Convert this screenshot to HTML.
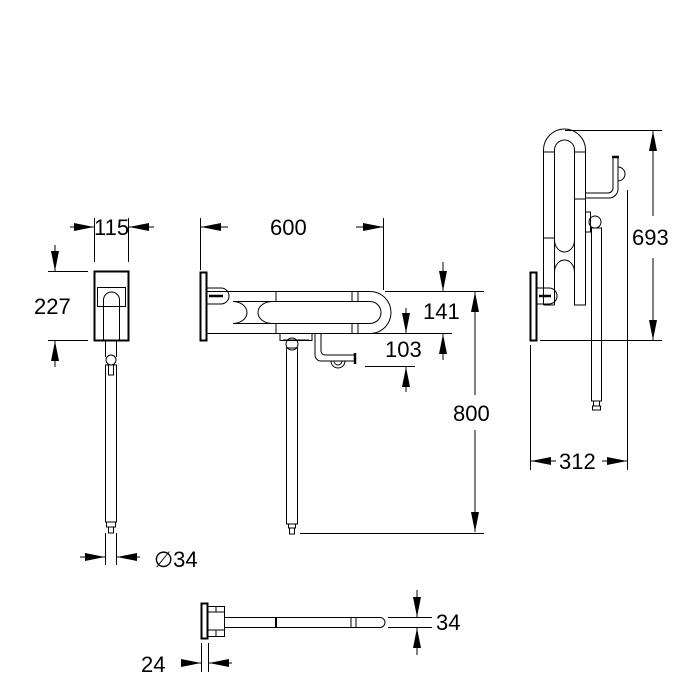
<!DOCTYPE html>
<html><head><meta charset="utf-8"><style>
html,body{margin:0;padding:0;background:#fff;}
svg{display:block}
text{font-family:"Liberation Sans",Arial,sans-serif;font-size:22px;fill:#000}
</style></head><body>
<svg width="700" height="700" viewBox="0 0 700 700" xmlns="http://www.w3.org/2000/svg">
<defs>
<marker id="a" viewBox="0 0 20 8" refX="20" refY="4" markerWidth="20" markerHeight="8" markerUnits="userSpaceOnUse" orient="auto"><path d="M0,0 L20,4 L0,8 z" fill="#000"/></marker>
</defs>
<g stroke="#000" stroke-width="1" fill="none">
<!-- LEFT VIEW -->
<rect x="94.5" y="271.5" width="34" height="69" stroke-width="2"/>
<rect x="97.5" y="287.5" width="28" height="19" />
<path d="M103.5,340 V300 a8,8 0 0 1 16,0 V340"/>
<path d="M105.5,340 V357 M116.5,340 V357"/>
<circle cx="111" cy="360" r="5"/>
<rect x="108.5" y="365" width="5" height="10"/>
<rect x="105.5" y="365" width="11" height="157"/>
<rect x="106.5" y="522" width="9" height="5"/>
<rect x="108.5" y="527" width="5" height="6"/>
<!-- dims left -->
<path d="M94.5,218 V262 M128.5,218 V262"/>
<path d="M70,227 H94" marker-end="url(#a)"/>
<path d="M154,227 H129" marker-end="url(#a)"/>
<path d="M48,271.5 H88 M48,340.5 H88"/>
<path d="M55,245 V271" marker-end="url(#a)"/>
<path d="M55,367 V341" marker-end="url(#a)"/>
<path d="M105.5,533 V565 M116.5,533 V565"/>
<path d="M80,557 H105" marker-end="url(#a)"/>
<path d="M140,557 H117" marker-end="url(#a)"/>

<!-- FRONT VIEW -->
<rect x="200.5" y="272.5" width="6" height="68" stroke-width="2"/>
<path d="M207,288 h14 a8,8 0 0 1 0,16 h-14"/>
<path d="M209,296 h14" stroke-width="2.5"/>
<path d="M207,291.5 H370 a21,21 0 0 1 0,42 H207"/>
<path d="M233,301.5 H370 a11,11 0 0 1 0,22 H233"/>
<path d="M233,301.5 a14,11 0 0 1 0,22 M272,301.5 a14,11 0 0 0 0,22"/>
<path d="M276,291.5 V301 M276,323 V333.5 M352,291.5 V301 M358,291.5 V301 M352,323 V333.5 M358,323 V333.5"/>
<path d="M280,333.5 v7 h32 v-7 M283,340 h26"/>
<circle cx="292" cy="344" r="6"/>
<rect x="286.5" y="348" width="11" height="176"/>
<rect x="288.5" y="524" width="7" height="4"/>
<rect x="289.5" y="528" width="5" height="6"/>
<path d="M315,333.5 V355 a6,6 0 0 0 6,6 H355 M321,333.5 V351 a4,4 0 0 0 4,4 H355"/>
<path d="M355,353 V364" stroke-width="2.5"/>
<path d="M331,361 a7,7 0 0 0 14,0 M334,361 a4,4 0 0 0 8,0"/>
<!-- dims front -->
<path d="M200.5,218 V270 M383.5,218 V290"/>
<path d="M228,227 H201" marker-end="url(#a)"/>
<path d="M356,227 H383" marker-end="url(#a)"/>
<path d="M385,291.5 H484 M370,333.5 H452 M365,366.5 H415 M300,533.5 H484"/>
<path d="M443,262 V291" marker-end="url(#a)"/>
<path d="M443,360 V334" marker-end="url(#a)"/>
<path d="M406,308 V333" marker-end="url(#a)"/>
<path d="M406,392 V367" marker-end="url(#a)"/>
<path d="M475,395 V292" marker-end="url(#a)"/>
<path d="M475,430 V532" marker-end="url(#a)"/>

<!-- SIDE VIEW -->
<rect x="530.5" y="272.5" width="6" height="68" stroke-width="2"/>
<path d="M537,288 h12 a8,8 0 0 1 0,16 h-12"/>
<path d="M539,296 h12" stroke-width="2.5"/>
<path d="M543.5,305 V150 a21,21 0 0 1 42,0 V305 H574 M543.5,305 h11"/>
<path d="M554.5,305 V150 a10,10 0 0 1 20,0 V305"/>
<path d="M543.5,152 h11 M574.5,152 h11 M543.5,238 h11 M574.5,199 h11"/>
<path d="M554.5,240 a10,12 0 0 0 20,0 M554.5,272 a10,12 0 0 1 20,0"/>
<path d="M585.5,193 H608 a5,5 0 0 0 5,-5 V158 M585.5,198 H609 a9,9 0 0 0 9,-9 V158"/>
<path d="M612,157 h7" stroke-width="2.5"/>
<path d="M618,167 a7,7 0 0 1 0,14"/>
<rect x="585.5" y="212" width="5" height="20"/>
<circle cx="595" cy="222" r="6"/>
<rect x="591.5" y="228" width="10" height="173"/>
<rect x="593.5" y="401" width="6" height="5"/>
<rect x="592.5" y="406" width="8" height="4"/>
<!-- dims side -->
<path d="M565,130.5 H662 M540,340.5 H662"/>
<path d="M653,216 V131" marker-end="url(#a)"/>
<path d="M653,258 V340" marker-end="url(#a)"/>
<path d="M530.5,345 V470 M627.5,190 V470"/>
<path d="M556,461 H531" marker-end="url(#a)"/>
<path d="M602,461 H627" marker-end="url(#a)"/>

<!-- BOTTOM VIEW -->
<rect x="201.5" y="603.5" width="6" height="35" stroke-width="2"/>
<rect x="207.5" y="606.5" width="17" height="30"/>
<path d="M207.5,612 h17 M207.5,630 h17 M216,606.5 V612 M216,630 V636.5"/>
<path d="M224.5,617.5 H380 a5,5 0 0 1 0,10 H224.5"/>
<path d="M276,617.5 v10" stroke-width="2"/>
<path d="M351,617.5 v10 M356,617.5 v10"/>
<path d="M388,617.5 H432 M388,627.5 H432"/>
<path d="M417,590 V617" marker-end="url(#a)"/>
<path d="M417,655 V628" marker-end="url(#a)"/>
<path d="M201.5,643 V672 M208.5,643 V672"/>
<path d="M182,663 H201" marker-end="url(#a)"/>
<path d="M232,663 H209" marker-end="url(#a)"/>
</g>
<g>
<text x="94" y="235">115</text>
<text x="34" y="314">227</text>
<text x="270" y="235">600</text>
<text x="423" y="319">141</text>
<text x="385" y="357">103</text>
<text x="453" y="421">800</text>
<text x="632" y="245">693</text>
<text x="559" y="469">312</text>
<text x="154" y="567">∅34</text>
<text x="436" y="630">34</text>
<text x="141" y="672">24</text>
</g>
</svg>
</body></html>
